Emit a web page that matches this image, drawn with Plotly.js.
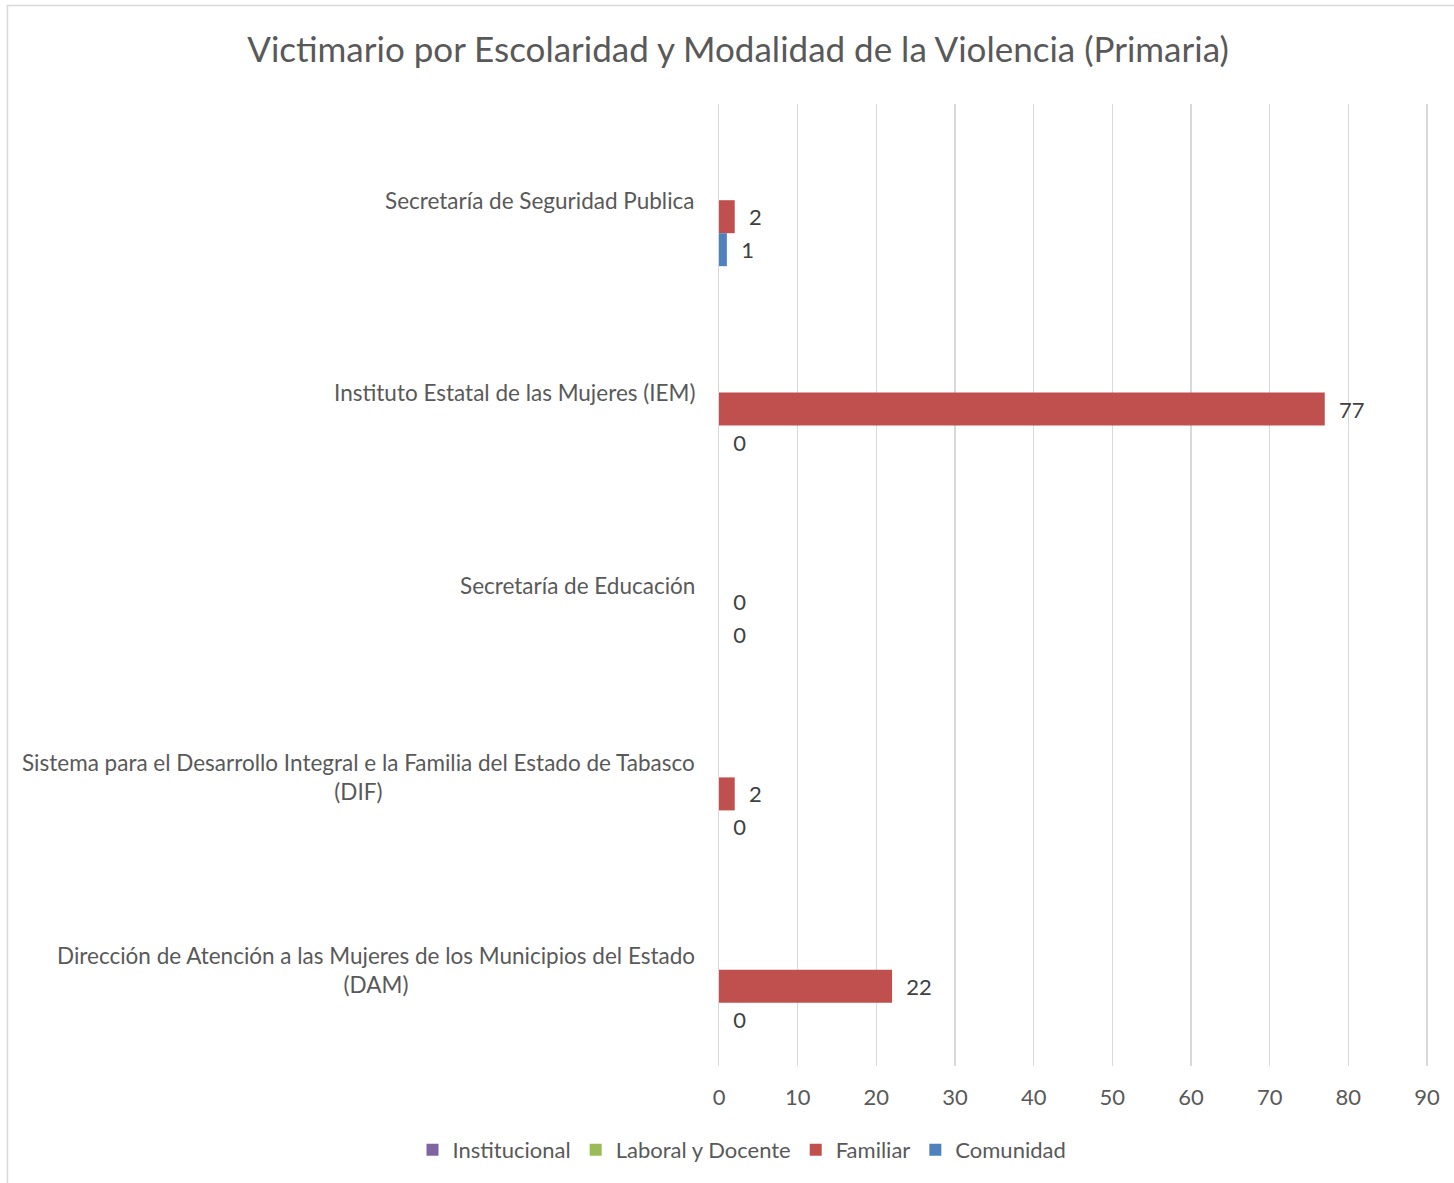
<!DOCTYPE html>
<html>
<head>
<meta charset="utf-8">
<script src="https://cdn.plot.ly/plotly-3.0.1.min.js"></script>
<style>
html,body{margin:0;padding:0;background:#fff;}
#chart{width:1454px;height:1183px;}
</style>
</head>
<body>
<div id="chart"></div>
<script>
// Categories, top to bottom as shown
var categories = [
  "Secretaría de Seguridad Publica",
  "Instituto Estatal de las Mujeres (IEM)",
  "Secretaría de Educación",
  "Sistema para el Desarrollo Integral e la Familia del Estado de Tabasco<br>(DIF)",
  "Dirección de Atención a las Mujeres de los Municipios del Estado<br>(DAM)"
];
var seriesNames = ["Institucional", "Laboral y Docente", "Familiar", "Comunidad"];
var institucional = [null, null, null, null, null];
var laboralDocente = [null, null, null, null, null];
var familiar = [2, 77, 0, 2, 22];
var comunidad = [1, 0, 0, 0, 0];
var xTicks = [0, 10, 20, 30, 40, 50, 60, 70, 80, 90];

var colors = ["#8064A2", "#9BBB59", "#C0504D", "#4F81BD"];
var values = [institucional, laboralDocente, familiar, comunidad];
var FONT = "Lato, 'Open Sans', sans-serif";

var traces = values.map(function(v, i) {
  var hasLabels = v.some(function(d){ return d !== null; });
  return {
    type: "bar",
    orientation: "h",
    name: seriesNames[i],
    y: categories,
    x: v,
    marker: {color: colors[i], line: {width: 0}},
    texttemplate: hasLabels ? "\u00a0\u00a0%{x}" : "",
    textposition: hasLabels ? "outside" : "none",
    textfont: {family: FONT, size: 22, color: "#404040"},
    constraintext: "none",
    cliponaxis: false,
    hoverinfo: "x+name"
  };
});

var W = 1454, H = 1183;
var L = 719, R = 1429, T = 104, B = 1066;
var pw = R - L, ph = B - T;

var annotations = categories.map(function(c) {
  return {
    xref: "paper", yref: "y", x: 0, y: c,
    xanchor: "right", yanchor: "middle", xshift: -22,
    text: c, showarrow: false, align: "center",
    font: {family: FONT, size: 22.5, color: "#595959"}
  };
});

var layout = {
  width: W, height: H,
  margin: {l: L, r: W - R, t: T, b: H - B, pad: 0},
  paper_bgcolor: "#ffffff",
  plot_bgcolor: "#ffffff",
  font: {family: FONT, color: "#595959"},
  title: {
    text: "Victimario por Escolaridad y Modalidad de la Violencia (Primaria)",
    font: {family: FONT, size: 35, color: "#595959"},
    xref: "container", x: 738 / W, xanchor: "center",
    yref: "container", y: 1 - 50 / H, yanchor: "middle"
  },
  barmode: "group",
  bargap: 0.314,
  bargroupgap: 0,
  xaxis: {
    range: [0, 90.25],
    tickvals: xTicks,
    ticktext: xTicks.map(String),
    showgrid: true,
    gridcolor: "#D9D9D9",
    gridwidth: 1.5,
    zeroline: false,
    showline: false,
    ticks: "",
    ticklabelstandoff: 16,
    tickfont: {family: FONT, size: 22, color: "#595959"}
  },
  yaxis: {
    type: "category",
    autorange: "reversed",
    showticklabels: false,
    showgrid: false,
    zeroline: false,
    showline: true,
    linecolor: "#D9D9D9",
    linewidth: 1.5,
    ticks: ""
  },
  legend: {
    orientation: "h",
    xref: "container", yref: "container",
    x: 742 / W, xanchor: "center",
    y: 1 - 1150 / H, yanchor: "middle",
    font: {family: FONT, size: 22, color: "#595959"},
    itemwidth: 30,
    itemclick: false
  },
  annotations: annotations,
  shapes: [{
    type: "rect", xref: "paper", yref: "paper", layer: "below",
    x0: (7.5 - L) / pw, x1: (1470 - L) / pw,
    y0: (B - 1200) / ph, y1: (B - 5.5) / ph,
    line: {color: "#D9D9D9", width: 1.5}, fillcolor: "rgba(0,0,0,0)"
  }],
  showlegend: true
};

Plotly.newPlot("chart", traces, layout, {displayModeBar: false, staticPlot: true});
</script>
</body>
</html>
